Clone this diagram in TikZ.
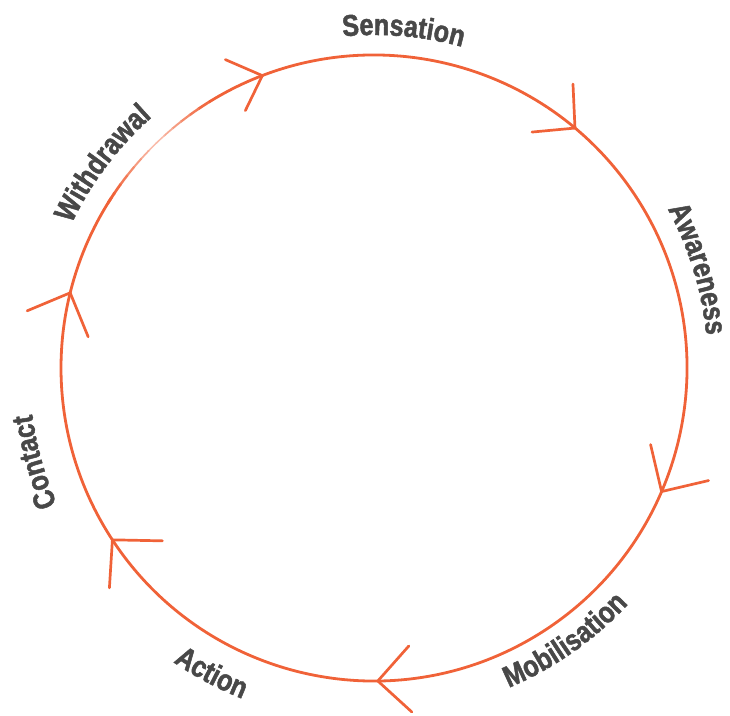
\documentclass[tikz,border=0pt]{standalone}
\usepackage{fontspec}
\newfontfamily\lblfamily{Liberation Sans}[FakeStretch=0.84, BoldFeatures={FakeBold=1.6}]
\usetikzlibrary{decorations.text}
\definecolor{ring}{RGB}{240,98,56}
\definecolor{lblgray}{RGB}{72,72,72}
\newcommand\lblfmt{\lblfamily\bfseries\fontsize{30}{36}\selectfont}
\begin{document}
\begin{tikzpicture}[x=1pt,y=1pt,
  ringline/.style={draw=ring, line width=2.8pt},
  barb/.style={draw=ring, line width=2.7pt, line cap=round, line join=miter},
  curvelabel/.style={decorate, decoration={text along path, text align=center, text color=lblgray, text={|\lblfmt|#1}}}
]
\useasboundingbox (0,0) rectangle (730,-715);
\coordinate (C) at (374,-368);
% main ring
\draw[ringline] (C) ++(122:313) arc[start angle=122, end angle=-213, radius=313];
% faded part
\foreach \a in {122,124,...,146}{
  \pgfmathsetmacro\f{max(0,1-abs(\a+1-134)/12)}
  \pgfmathsetmacro\p{100-62*\f}
  \pgfmathsetmacro\w{2.8-1.4*\f}
  \draw[draw=ring!\p!white, line width=\w pt] (C) ++(\a:313) arc[start angle=\a, end angle=\a+2.15, radius=313];
}
% arrow tips
\path (C) ++(110.9:313) coordinate (t1);
\path (C) ++(50.05:313) coordinate (t2);
\path (C) ++(-23.25:313) coordinate (t3);
\path (C) ++(-89.3:313) coordinate (t4);
\path (C) ++(213.3:313) coordinate (t5);
\path (C) ++(166.1:313) coordinate (t6);
\path (t1) ++(-37,16) coordinate (b1a) (t1) ++(-17,-35) coordinate (b1b);
\path (t2) ++(-2,44) coordinate (b2a) (t2) ++(-43,-4) coordinate (b2b);
\path (t3) ++(-11,47) coordinate (b3a) (t3) ++(47,11) coordinate (b3b);
\path (t4) ++(31,35) coordinate (b4a) (t4) ++(34,-31) coordinate (b4b);
\path (t5) ++(50,-1) coordinate (b5a) (t5) ++(-3,-48) coordinate (b5b);
\path (t6) ++(-43,-18) coordinate (b6a) (t6) ++(18,-44) coordinate (b6b);
\foreach \i in {1,...,6}{
  \draw[barb] (b\i a) -- (t\i) -- (b\i b);
}
% labels
\path[curvelabel={Sensation}] (C) ++(110:333) arc[start angle=110, end angle=60, radius=333];
\path[curvelabel={Awareness}] (C) ++(42:334) arc[start angle=42, end angle=-8, radius=334];
\path[curvelabel={Mobilisation}] (C) ++(-85:347) arc[start angle=-85, end angle=-25, radius=347];
\path[curvelabel={Action}] (C) ++(-143:356) arc[start angle=-143, end angle=-93, radius=356];
\path[curvelabel={Contact}] (C) ++(220.5:345) arc[start angle=220.5, end angle=170.5, radius=345];
\path[curvelabel={Withdrawal}] (C) ++(168:335) arc[start angle=168, end angle=118, radius=335];
\end{tikzpicture}
\end{document}
